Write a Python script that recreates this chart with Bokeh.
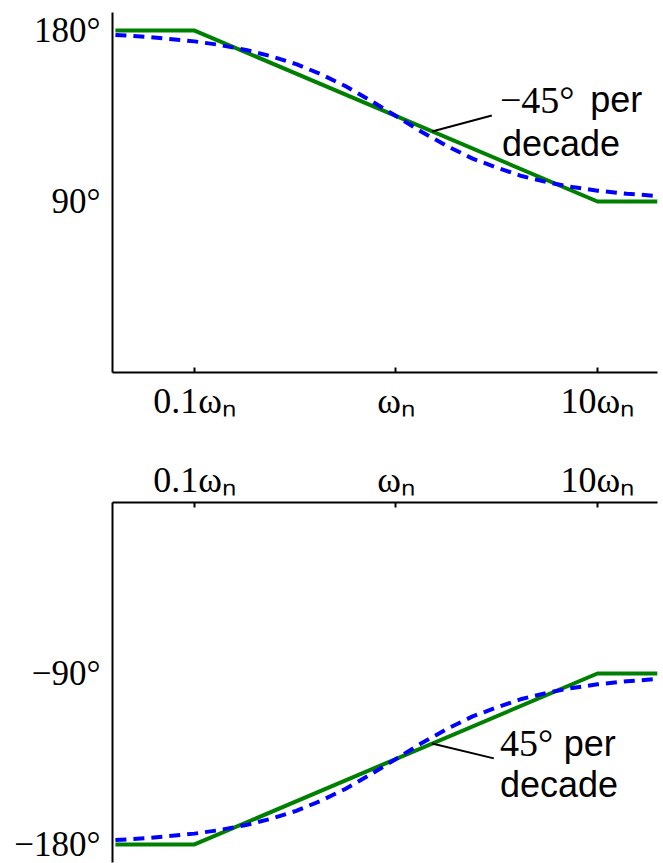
from bokeh.plotting import figure
from bokeh.layouts import column
from bokeh.models import Range1d, FixedTicker, Label
from bokeh.embed import file_html
from bokeh.resources import INLINE

# ---- data ----
x_ticks = [0.1, 1, 10]
x_tick_labels = ["0.1ωₙ", "ωₙ", "10ωₙ"]

# asymptotic approximation (green)
asym_w = [0.0405, 0.1, 10, 19.86]
asym_top = [180, 180, 90, 90]
asym_bot = [-180, -180, -90, -90]

# exact phase (blue dashed)
exact_w = [0.0405, 0.06, 0.1, 0.13, 0.18, 0.24, 0.32, 0.42, 0.56, 0.75, 1.0,
           1.33, 1.8, 2.4, 3.2, 4.2, 5.6, 7.5, 10, 14, 19.86]
exact_top = [177.7, 176.6, 174.3, 172.6, 169.8, 166.5, 162.3, 157.2, 150.8, 143.1, 135.0,
             126.9, 119.1, 112.6, 107.7, 103.4, 100.2, 97.6, 95.7, 94.1, 92.9]
exact_bot = [-177.7, -176.6, -174.3, -172.6, -169.8, -166.5, -162.3, -157.2, -150.8, -143.1, -135.0,
             -126.9, -119.1, -112.6, -107.7, -103.4, -100.2, -97.6, -95.7, -94.1, -92.9]

top_ticks = [90, 180]
top_tick_labels = ["90°", "180°"]
bot_ticks = [-180, -90]
bot_tick_labels = ["−180°", "−90°"]

GREEN = "#008000"
BLUE = "#0000ff"
SERIF = "Liberation Serif"
SANS = "Liberation Sans"
XR = (0.03917, 19.86)


def style(p, xaxis, yticks, ylabels, xlabel_standoff):
    p.grid.visible = False
    p.outline_line_color = None
    p.background_fill_color = "white"
    p.border_fill_color = "white"
    xaxis.ticker = FixedTicker(ticks=x_ticks)
    xaxis.major_label_overrides = {t: s for t, s in zip(x_ticks, x_tick_labels)}
    xaxis.major_label_text_font = SERIF
    xaxis.major_label_text_font_size = "36px"
    xaxis.major_label_text_color = "black"
    xaxis.major_tick_in = 5
    xaxis.major_tick_out = 0
    xaxis.minor_tick_line_color = None
    xaxis.axis_line_width = 2
    xaxis.major_tick_line_width = 2
    xaxis.major_label_standoff = xlabel_standoff
    ya = p.yaxis[0]
    ya.ticker = FixedTicker(ticks=yticks)
    ya.major_label_overrides = {t: s for t, s in zip(yticks, ylabels)}
    ya.major_label_text_font = SERIF
    ya.major_label_text_font_size = "35px"
    ya.major_label_text_color = "black"
    ya.major_tick_line_color = None
    ya.minor_tick_line_color = None
    ya.axis_line_width = 2
    ya.major_label_standoff = 6


def lab(p, x, y, text, font, size):
    p.add_layout(Label(x=x, y=y, text=text, text_font=font, text_font_size=size,
                       text_color="black", text_baseline="alphabetic"))


# ---- top panel ----
p1 = figure(width=663, height=435, x_axis_type="log", output_backend="svg",
            toolbar_location=None, x_range=Range1d(*XR), y_range=Range1d(0, 189.5),
            min_border_left=112, min_border_right=6, min_border_top=12, min_border_bottom=63)
p1.line(asym_w, asym_top, line_color=GREEN, line_width=4)
p1.line(exact_w, exact_top, line_color=BLUE, line_width=4, line_dash="11 7")
p1.line([1.51, 2.99], [126.9, 135.3], line_color="black", line_width=2)
style(p1, p1.xaxis[0], top_ticks, top_tick_labels, 8)
lab(p1, 3.28, 143.5, "−45°", SERIF, "38px")
lab(p1, 9.2, 143.5, "per", SANS, "36px")
lab(p1, 3.36, 120.8, "decade", SANS, "36px")

# ---- bottom panel ----
p2 = figure(width=663, height=428, x_axis_type="log", x_axis_location="above",
            output_backend="svg", toolbar_location=None,
            x_range=Range1d(*XR), y_range=Range1d(-189.5, 0),
            min_border_left=112, min_border_right=6, min_border_top=67, min_border_bottom=1)
p2.line(asym_w, asym_bot, line_color=GREEN, line_width=4)
p2.line(exact_w, exact_bot, line_color=BLUE, line_width=4, line_dash="11 7")
p2.line([1.51, 3.06], [-126.9, -134.7], line_color="black", line_width=2)
style(p2, p2.xaxis[0], bot_ticks, bot_tick_labels, 3)
lab(p2, 3.28, -126.6, "45°", SERIF, "38px")
lab(p2, 6.8, -126.6, "per", SANS, "36px")
lab(p2, 3.28, -148.2, "decade", SANS, "36px")

layout = column(p1, p2, spacing=0)
open("out.html", "w").write(file_html(layout, INLINE))
